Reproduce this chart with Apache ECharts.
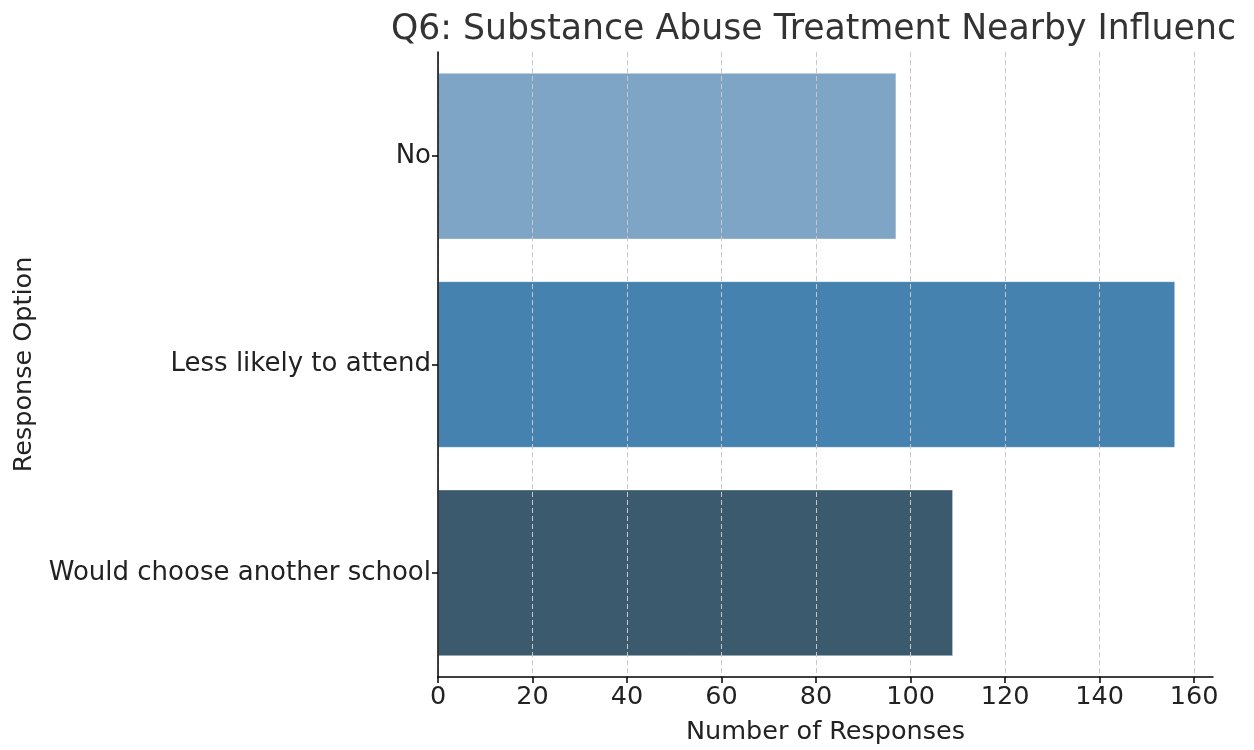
<!DOCTYPE html>
<html><head><meta charset="utf-8">
<script src="https://cdn.jsdelivr.net/npm/echarts@6/dist/echarts.min.js"></script>
<style>html,body{margin:0;padding:0;background:#fff}#c{width:1254px;height:750px}</style>
</head><body><div id="c"></div>
<script>
const categories = ["No", "Less likely to attend", "Would choose another school"];
const values = [97, 156, 109];
const barColors = ["#7ea5c5", "#4682b0", "#3c5a6e"];
const xTicks = [0, 20, 40, 60, 80, 100, 120, 140, 160];
const titleText = "Q6: Substance Abuse Treatment Nearby Influenc";

const font = "DejaVu Sans";
const chart = echarts.init(document.getElementById('c'), null, {renderer: 'canvas'});
chart.setOption({
  animation: false,
  title: {
    text: titleText, left: 386, top: 7,
    textStyle: {fontFamily: font, fontSize: 34.7, fontWeight: 'normal', color: '#333333'}
  },
  grid: {left: 438, right: 41, top: 52, bottom: 72, containLabel: false},
  xAxis: {
    type: 'value', min: 0, max: 164, z: 5,
    name: 'Number of Responses', nameLocation: 'middle', nameGap: 42,
    nameTextStyle: {fontFamily: font, fontSize: 25.5, color: '#222'},
    axisLine: {show: true, lineStyle: {color: '#000', width: 1.5}},
    axisTick: {show: true, length: 6, lineStyle: {color: '#000', width: 1.5}, customValues: xTicks},
    axisLabel: {fontFamily: font, fontSize: 25.5, color: '#222', margin: 7, customValues: xTicks},
    splitLine: {show: true, lineStyle: {color: '#c8c8c8', type: [5, 3], width: 1}}
  },
  yAxis: {
    type: 'category', data: categories, inverse: true, z: 6,
    name: 'Response Option', nameLocation: 'middle', nameGap: 399, nameRotate: 90,
    nameTextStyle: {fontFamily: font, fontSize: 25.5, color: '#222'},
    axisLine: {show: true, lineStyle: {color: '#000', width: 1.5}},
    axisTick: {show: true, alignWithLabel: true, length: 6, lineStyle: {color: '#000', width: 1.5}},
    axisLabel: {fontFamily: font, fontSize: 26, color: '#222', margin: 7, padding: [5, 0, 0, 0]},
    splitLine: {show: false}
  },
  series: [{
    type: 'bar',
    data: values.map((v, i) => ({value: v, itemStyle: {color: barColors[i]}})),
    barCategoryGap: '20%',
    itemStyle: {borderColor: 'rgba(255,255,255,0.35)', borderWidth: 1}
  }]
});
</script></body></html>
